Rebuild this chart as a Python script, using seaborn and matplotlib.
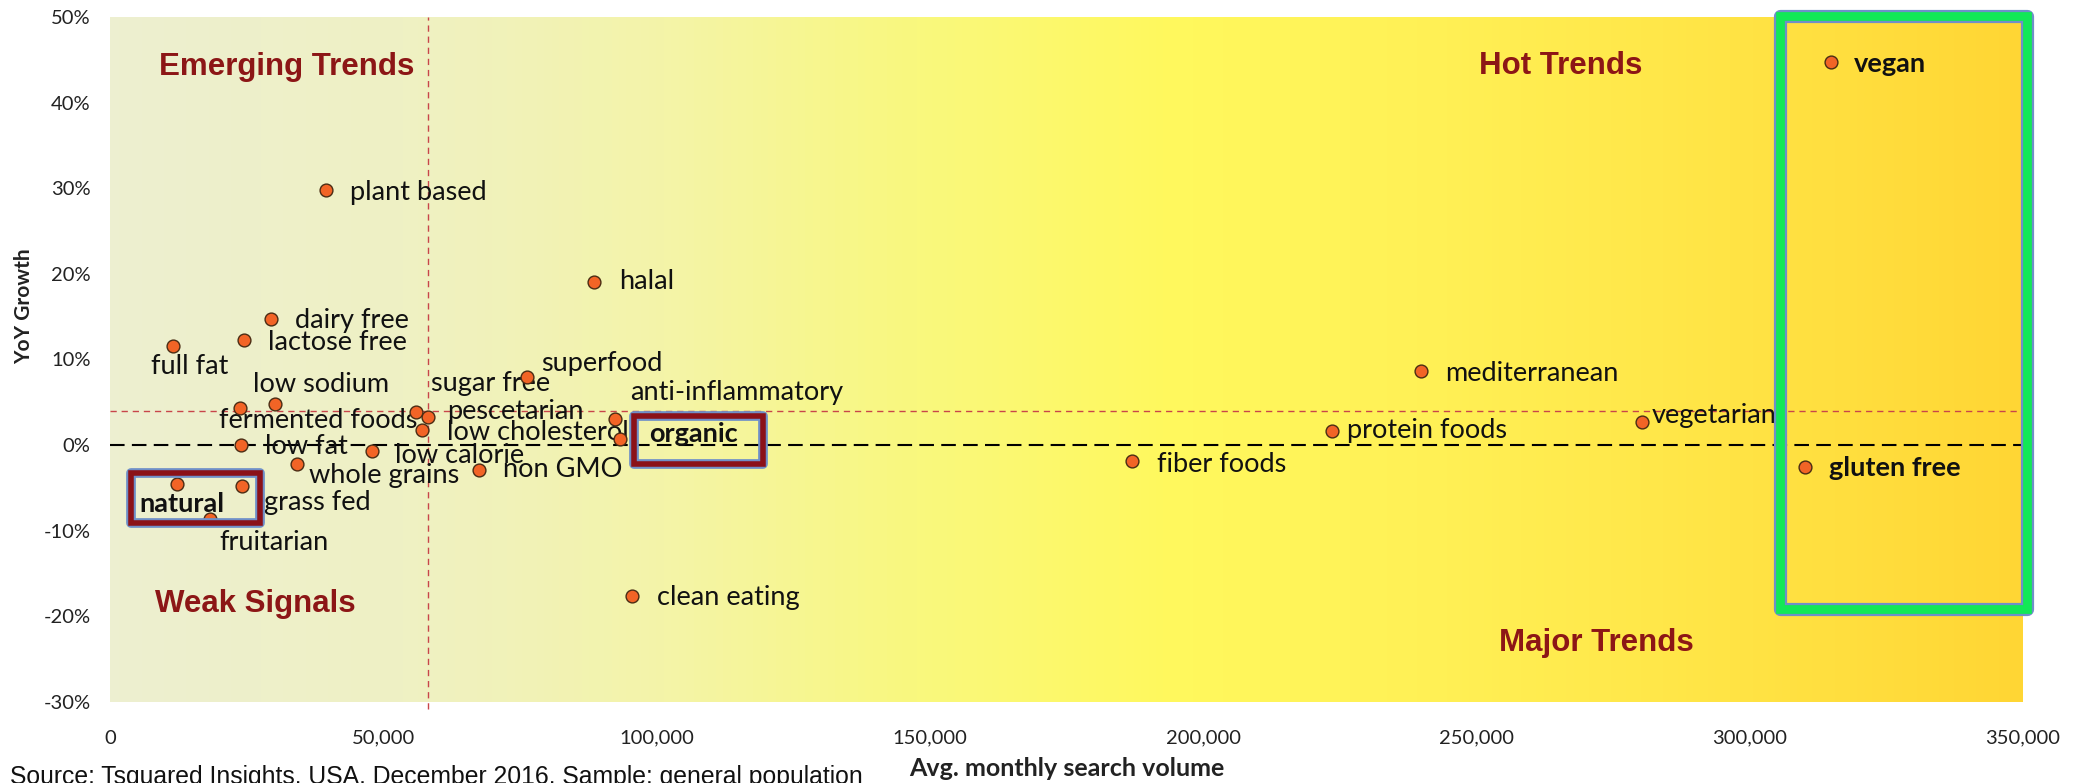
import numpy as np
import pandas as pd
import matplotlib
matplotlib.use("Agg")
import matplotlib.pyplot as plt
import seaborn as sns
from matplotlib.colors import LinearSegmentedColormap
from matplotlib.patches import Rectangle
from matplotlib.ticker import FuncFormatter

# ---------------- data ----------------
terms = ["plant based", "halal", "dairy free", "lactose free", "full fat", "superfood",
         "low sodium", "sugar free", "pescetarian", "low cholesterol", "fermented foods",
         "low fat", "low calorie", "whole grains", "non GMO", "natural", "grass fed",
         "fruitarian", "anti-inflammatory", "organic", "clean eating", "fiber foods",
         "protein foods", "mediterranean", "vegetarian", "gluten free", "vegan"]
search_volume = [39500, 88500, 29500, 24600, 11500, 76300,
                 30200, 55900, 58100, 57000, 23800,
                 24000, 48000, 34300, 67600, 12300, 24200,
                 18300, 92400, 93300, 95500, 186900,
                 223500, 239900, 280300, 310200, 314800]
yoy_growth = [29.8, 19.1, 14.7, 12.3, 11.6, 7.9,
              4.8, 3.9, 3.3, 1.8, 4.3,
              0.0, -0.7, -2.2, -2.9, -4.5, -4.8,
              -8.6, 3.1, 0.7, -17.6, -1.9,
              1.6, 8.7, 2.7, -2.5, 44.8]
bold_terms = ["natural", "organic", "gluten free", "vegan"]
avg_volume = 58200
avg_growth = 4.0
x_ticks = [0, 50000, 100000, 150000, 200000, 250000, 300000, 350000]
y_ticks = [-30, -20, -10, 0, 10, 20, 30, 40, 50]
quadrant_titles = ["Emerging Trends", "Hot Trends", "Weak Signals", "Major Trends"]

df = pd.DataFrame({"term": terms, "volume": search_volume, "growth": yoy_growth})

# ---------------- figure ----------------
sns.set_style("white")
plt.rcParams["font.family"] = ["Lato", "DejaVu Sans"]

W, H = 2078, 783
fig = plt.figure(figsize=(W / 100, H / 100), dpi=100)
ax = fig.add_axes([110 / W, (H - 702) / H, (2023 - 110) / W, (702 - 17) / H])

xmin, xmax, ymin, ymax = 0, 350000, -30, 50

# gradient background
bg = LinearSegmentedColormap.from_list("bg", [
    (0.00, "#EDEFD0"), (0.15, "#EFF1C4"), (0.29, "#F4F4A8"), (0.42, "#F9F87E"),
    (0.55, "#FFF95E"), (0.70, "#FFF055"), (0.85, "#FFE445"), (1.00, "#FFD634")])
grad = np.linspace(0, 1, 512).reshape(1, -1)
ax.imshow(grad, cmap=bg, extent=[xmin, xmax, ymin, ymax], aspect="auto", zorder=0,
          interpolation="bilinear")

# reference lines
ax.axhline(0, color="black", lw=1.5, dashes=(7, 3.5), zorder=2)
ax.axhline(avg_growth, color="#C8454A", lw=1.0, dashes=(4.5, 3.5), zorder=2)
ax.axvline(avg_volume, ymin=-0.01, ymax=1.0, color="#C8454A", lw=1.0, dashes=(4.5, 3.5),
           zorder=2, clip_on=False)

# points
sns.scatterplot(data=df, x="volume", y="growth", ax=ax, s=85, color="#F26426",
                edgecolor="#4A2C14", linewidth=1.0, zorder=6, legend=False)

# labels: (dx, dy) offsets in points, ha
label_offsets = {
    "plant based": (17, -2, "left"), "halal": (18, 0, "left"), "dairy free": (17, -1, "left"),
    "lactose free": (17, -2, "left"), "full fat": (12, -15, "center"),
    "superfood": (10, 10, "left"), "low sodium": (-16, 14, "left"),
    "sugar free": (11, 20, "left"), "pescetarian": (14, 4, "left"),
    "low cholesterol": (18, -2, "left"), "fermented foods": (-15, -9, "left"),
    "low fat": (17, -1, "left"), "low calorie": (16, -3, "left"),
    "whole grains": (8, -8, "left"), "non GMO": (17, 0, "left"),
    "natural": (-27, -15, "left"), "grass fed": (16, -12, "left"),
    "fruitarian": (7, -17, "left"), "anti-inflammatory": (11, 19, "left"),
    "organic": (21, 4, "left"), "clean eating": (18, -1, "left"),
    "fiber foods": (18, -2, "left"), "protein foods": (11, 1, "left"),
    "mediterranean": (17, -2, "left"), "vegetarian": (7, 5, "left"),
    "gluten free": (17, -1, "left"), "vegan": (17, -2, "left"),
}
for t, xv, yv in zip(terms, search_volume, yoy_growth):
    dx, dy, ha = label_offsets[t]
    ax.annotate(t, (xv, yv), xytext=(dx, dy), textcoords="offset points",
                ha=ha, va="center", fontsize=19.5, color="#111111",
                fontweight="bold" if t in bold_terms else "normal", zorder=5)

# quadrant titles
title_pos = [(9000, 44.2), (250500, 44.3), (8300, -18.6), (254100, -23.1)]
for t, (xq, yq) in zip(quadrant_titles, title_pos):
    ax.text(xq, yq, t, ha="left", va="center", fontsize=22.5, fontweight="bold",
            color="#8C1616", family=["Liberation Sans", "DejaVu Sans"], zorder=5)

# highlight boxes
def hbox(x0, x1, y0, y1, inner, lw_outer, lw_inner):
    ax.add_patch(Rectangle((x0, y0), x1 - x0, y1 - y0, fill=False, edgecolor="#6F8FC8",
                           lw=lw_outer, zorder=7, clip_on=False, joinstyle="round"))
    ax.add_patch(Rectangle((x0, y0), x1 - x0, y1 - y0, fill=False, edgecolor=inner,
                           lw=lw_inner, zorder=8, clip_on=False, joinstyle="miter"))

hbox(3900, 27400, -9.1, -3.3, "#8B1118", 7.0, 4.0)
hbox(95900, 119400, -2.2, 3.4, "#8B1118", 7.0, 4.0)
hbox(305600, 350700, -19.1, 50.1, "#12E856", 9.5, 6.3)

# axes formatting
ax.set_xlim(xmin, xmax)
ax.set_ylim(ymin, ymax)
ax.set_xticks(x_ticks)
ax.set_yticks(y_ticks)
ax.xaxis.set_major_formatter(FuncFormatter(lambda v, p: f"{int(v):,}"))
ax.yaxis.set_major_formatter(FuncFormatter(lambda v, p: f"{int(v)}%"))
ax.tick_params(axis="both", length=0, labelsize=14.5, colors="#222222")
ax.tick_params(axis="x", pad=20)
ax.tick_params(axis="y", pad=14)
for s in ax.spines.values():
    s.set_visible(False)
ax.grid(False)
ax.set_xlabel("")
ax.set_ylabel("")

fig.text((110 + 2023) / 2 / W, 1 - 768 / H, "Avg. monthly search volume", ha="center",
         va="center", fontsize=18, fontweight="bold", color="#222222")
fig.text(24 / W, 1 - 306 / H, "YoY Growth", ha="center", va="center", rotation=90,
         fontsize=15, fontweight="bold", color="#222222")
fig.text(10 / W, 1 - 765 / H,
         "Source: Tsquared Insights, USA, December 2016, Sample: general population",
         ha="left", va="top", fontsize=17.8, color="#111111",
         family=["Liberation Sans", "DejaVu Sans"])

fig.savefig("out.png", dpi=100)
